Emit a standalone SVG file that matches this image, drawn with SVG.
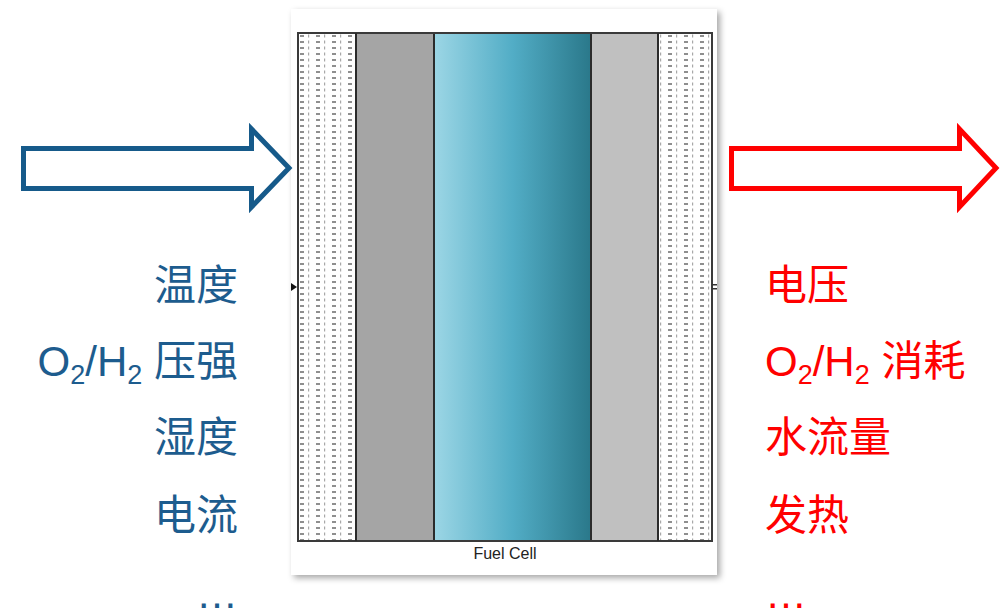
<svg xmlns="http://www.w3.org/2000/svg" width="1001" height="612" viewBox="0 0 1001 612">
<style>
.lbl{font-family:"Liberation Sans","Noto Sans CJK SC",sans-serif;font-size:42px}
.blue{fill:#1d5c8e}
.red{fill:#ff0000}
.cjk{font-family:"Noto Sans CJK SC",sans-serif}
.sub{font-size:27px}
.layer{stroke:#2b2b2b;stroke-width:2}
</style>
<defs>
<linearGradient id="mem" x1="0" y1="0" x2="1" y2="0">
<stop offset="0" stop-color="#9cd6e5"/>
<stop offset="0.5" stop-color="#52adc6"/>
<stop offset="1" stop-color="#2a788a"/>
</linearGradient>
<pattern id="gdl" x="298" y="33" width="16" height="6" patternUnits="userSpaceOnUse">
<rect x="2" y="2" width="4" height="2" fill="#8f8f8f"/>
<rect x="10" y="1.5" width="1.2" height="3" fill="#a8a8a8"/>
</pattern>
<filter id="shadow" x="-5%" y="-5%" width="115%" height="115%">
<feDropShadow dx="3" dy="3" stdDeviation="3" flood-color="#000" flood-opacity="0.35"/>
</filter>
</defs>

<g id="fuel-cell">
<rect x="291" y="9" width="426" height="566" fill="#fff" filter="url(#shadow)"/>
<rect x="298" y="33" width="58" height="508" fill="#fff"/>
<rect x="298" y="33" width="58" height="508" fill="url(#gdl)"/>
<rect x="356" y="33" width="78" height="508" fill="#a5a5a5" class="layer"/>
<rect x="434" y="33" width="157" height="508" fill="url(#mem)" class="layer"/>
<rect x="591" y="33" width="67" height="508" fill="#c0c0c0" class="layer"/>
<rect x="658" y="33" width="54" height="508" fill="#fff"/>
<rect x="658" y="33" width="54" height="508" fill="url(#gdl)"/>
<rect x="298" y="33" width="414" height="508" fill="none" stroke="#3a3a3a" stroke-width="2"/>
<line x1="356" y1="33" x2="356" y2="541" stroke="#2b2b2b" stroke-width="2"/>
<line x1="658" y1="33" x2="658" y2="541" stroke="#2b2b2b" stroke-width="2"/>
<polygon points="291,283 297,287 291,291" fill="#111"/>
<rect x="712" y="284" width="5" height="1.5" fill="#333"/>
<rect x="712" y="288" width="5" height="1.5" fill="#333"/>
<text x="505" y="559" text-anchor="middle" font-family="Liberation Sans,Arial,sans-serif" font-size="16" fill="#222">Fuel Cell</text>
</g>

<g id="connectors">
<polygon id="input-arrow" points="23.5,148.5 251.5,148.5 251.5,129 289,168 251.5,207 251.5,188.5 23.5,188.5" fill="#fff" stroke="#165a8a" stroke-width="5" stroke-linejoin="miter"/>
<polygon id="output-arrow" points="731.5,148.5 959.5,148.5 959.5,129 996,168 959.5,207 959.5,188.5 731.5,188.5" fill="#fff" stroke="#ff0000" stroke-width="5" stroke-linejoin="miter"/>
</g>

<g id="inputs" class="lbl blue" text-anchor="end">
<text x="238" y="300" class="cjk">温度</text>
<text x="238" y="376">O<tspan class="sub" dy="8">2</tspan><tspan dy="-8">/H</tspan><tspan class="sub" dy="8">2</tspan><tspan dy="-8"> </tspan><tspan class="cjk">压强</tspan></text>
<text x="238" y="452" class="cjk">湿度</text>
<text x="238" y="530" class="cjk">电流</text>
<text x="238" y="608">…</text>
</g>

<g id="outputs" class="lbl red">
<text x="765" y="300" class="cjk">电压</text>
<text x="765" y="376">O<tspan class="sub" dy="8">2</tspan><tspan dy="-8">/H</tspan><tspan class="sub" dy="8">2</tspan><tspan dy="-8"> </tspan><tspan class="cjk">消耗</tspan></text>
<text x="765" y="452" class="cjk">水流量</text>
<text x="765" y="530" class="cjk">发热</text>
<text x="765" y="608">…</text>
</g>
</svg>
